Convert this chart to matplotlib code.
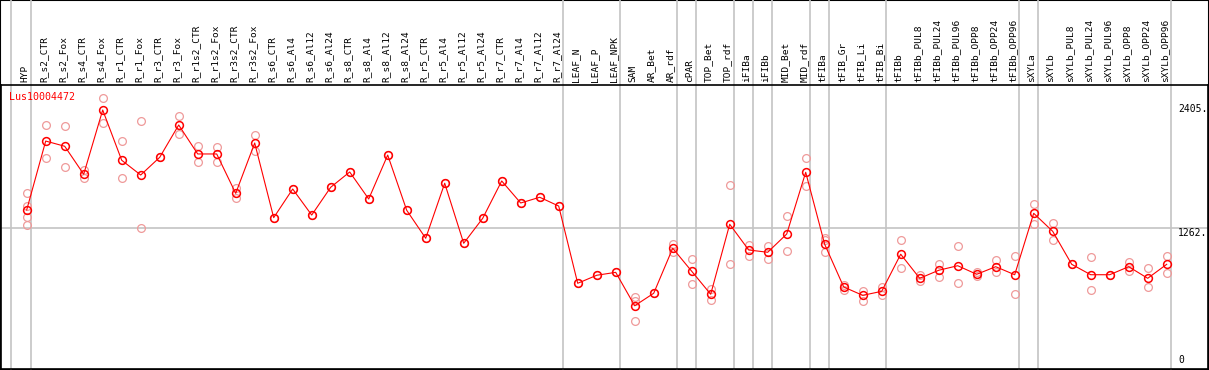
import numpy as np
import matplotlib
matplotlib.use('Agg')
import matplotlib.pyplot as plt

GENE = 'Lus10004472'
SAMPLES = ['HYP', 'R_s2_CTR', 'R_s2_Fox', 'R_s4_CTR', 'R_s4_Fox', 'R_r1_CTR', 'R_r1_Fox',
           'R_r3_CTR', 'R_r3_Fox', 'R_r1s2_CTR', 'R_r1s2_Fox', 'R_r3s2_CTR', 'R_r3s2_Fox',
           'R_s6_CTR', 'R_s6_Al4', 'R_s6_Al12', 'R_s6_Al24', 'R_s8_CTR', 'R_s8_Al4',
           'R_s8_Al12', 'R_s8_Al24', 'R_r5_CTR', 'R_r5_Al4', 'R_r5_Al12', 'R_r5_Al24',
           'R_r7_CTR', 'R_r7_Al4', 'R_r7_Al12', 'R_r7_Al24', 'LEAF_N', 'LEAF_P', 'LEAF_NPK',
           'SAM', 'AR_Bet', 'AR_rdf', 'cPAR', 'TOP_Bet', 'TOP_rdf', 'iFIBa', 'iFIBb',
           'MID_Bet', 'MID_rdf', 'tFIBa', 'tFIB_Gr', 'tFIB_Li', 'tFIB_Bi', 'tFIBb',
           'tFIBb_PUL8', 'tFIBb_PUL24', 'tFIBb_PUL96', 'tFIBb_OPP8', 'tFIBb_OPP24',
           'tFIBb_OPP96', 'sXYLa', 'sXYLb', 'sXYLb_PUL8', 'sXYLb_PUL24', 'sXYLb_PUL96',
           'sXYLb_OPP8', 'sXYLb_OPP24', 'sXYLb_OPP96']

MEANS = [1429, 2064, 2016, 1758, 2350, 1887, 1751, 1914, 2212, 1945, 1945, 1582, 2046,
         1358, 1622, 1382, 1638, 1779, 1530, 1935, 1426, 1168, 1675, 1122, 1352,
         1696, 1493, 1546, 1465, 753, 827, 854,
         546, 661, 1076, 864, 652, 1297, 1060, 1039, 1207, 1776, 1112, 719, 642, 679,
         1021, 799, 873, 915, 836, 906, 832, 1398, 1232, 928, 832, 832, 906, 799, 928]

REPLICATES = [[1582, 1468, 1367, 1288], [2212, 1905], [2203, 1822], [1797, 1726],
              [2458, 2228], [2064, 1721], [2246, 1260], [1914], [2295, 2126],
              [2018, 1868], [2012, 1868], [1634, 1536], [2120, 1975],
              [1358], [1622], [1382], [1638], [1779], [1530], [1935], [1426],
              [1168], [1675], [1122], [1352], [1696], [1493], [1546], [1465],
              [753], [827], [854],
              [630, 590, 408], [661], [1112, 1044], [974, 744], [700, 599], [1656, 928],
              [1106, 1005], [1097, 980], [1373, 1048], [1905, 1650], [1173, 1152, 1039],
              [691, 737], [685, 593], [722, 645], [1148, 891], [830, 774], [931, 814],
              [1094, 753], [857, 820], [968, 854], [1002, 657], [1481, 1300],
              [1309, 1152], [929], [993, 691], [832], [949, 869], [891, 716], [1002, 845]]

# last sample of each group (gray separators)
GROUP_ENDS = [0, 28, 31, 34, 35, 37, 38, 39, 41, 42, 45, 52, 53, 60]
Y_TICKS = [2405, 1262, 0]

W, H = 1209, 370
fig = plt.figure(figsize=(W / 100, H / 100), dpi=100)

# outer frame
frame = fig.add_axes([0, 0, 1, 1])
frame.set_xticks([])
frame.set_yticks([])
for s in frame.spines.values():
    s.set_color('black')
    s.set_linewidth(1.5)
frame.patch.set_facecolor('white')

top_px = 85
ax = fig.add_axes([1 / W, 1 / H, 1207 / W, (H - 1 - top_px) / H])
ax.patch.set_alpha(0)
x = np.arange(len(SAMPLES))
ax.set_xlim((1 - 26.7) / 19, (1208 - 26.7) / 19)
ax.set_ylim(-36.9, 2580.6)
ax.set_xticks([])
ax.set_yticks([])
for s in ax.spines.values():
    s.set_color('black')
    s.set_linewidth(1.2)

grid_col = '#c4c4c4'
ymax_ext = (H - 1) / (H - 1 - top_px)
ax.axvline(-0.84, ymin=0, ymax=ymax_ext, color=grid_col, lw=1.2, clip_on=False, zorder=1)
for g in GROUP_ENDS:
    ax.axvline(g + 0.21, ymin=0, ymax=ymax_ext, color=grid_col, lw=1.2, clip_on=False, zorder=1)
ax.axhline(Y_TICKS[1], color=grid_col, lw=1.2, zorder=1)

for i, reps in enumerate(REPLICATES):
    ax.plot([i] * len(reps), reps, linestyle='none', marker='o', ms=5.6, mfc='none',
            mec='#ef9a9a', mew=0.9, zorder=2)

ax.plot(x, MEANS, color='red', lw=0.8, zorder=3)
ax.plot(x, MEANS, linestyle='none', marker='o', ms=5.6, mfc='none', mec='red', mew=1.1, zorder=4)

mono = 'DejaVu Sans Mono'
for i, name in enumerate(SAMPLES):
    ax.text(i - 0.1, 1 + 3 / 284, name, rotation=90, ha='center', va='bottom', fontsize=6.8,
            family=mono, transform=ax.get_xaxis_transform(), clip_on=False)

ax.text(0.0069, 0.959, GENE, color='red', fontsize=7.2, family=mono, ha='left', va='center',
        transform=ax.transAxes)

tx = (1178 - 1) / 1207
ax.text(tx, Y_TICKS[0], f'{Y_TICKS[0]}.', fontsize=7, family=mono, ha='left', va='top',
        transform=ax.get_yaxis_transform())
ax.text(tx, Y_TICKS[1], f'{Y_TICKS[1]}.', fontsize=7, family=mono, ha='left', va='top',
        transform=ax.get_yaxis_transform())
ax.text(tx, Y_TICKS[2], f'{Y_TICKS[2]}', fontsize=7, family=mono, ha='left', va='bottom',
        transform=ax.get_yaxis_transform())

fig.savefig('out.png', dpi=100)
